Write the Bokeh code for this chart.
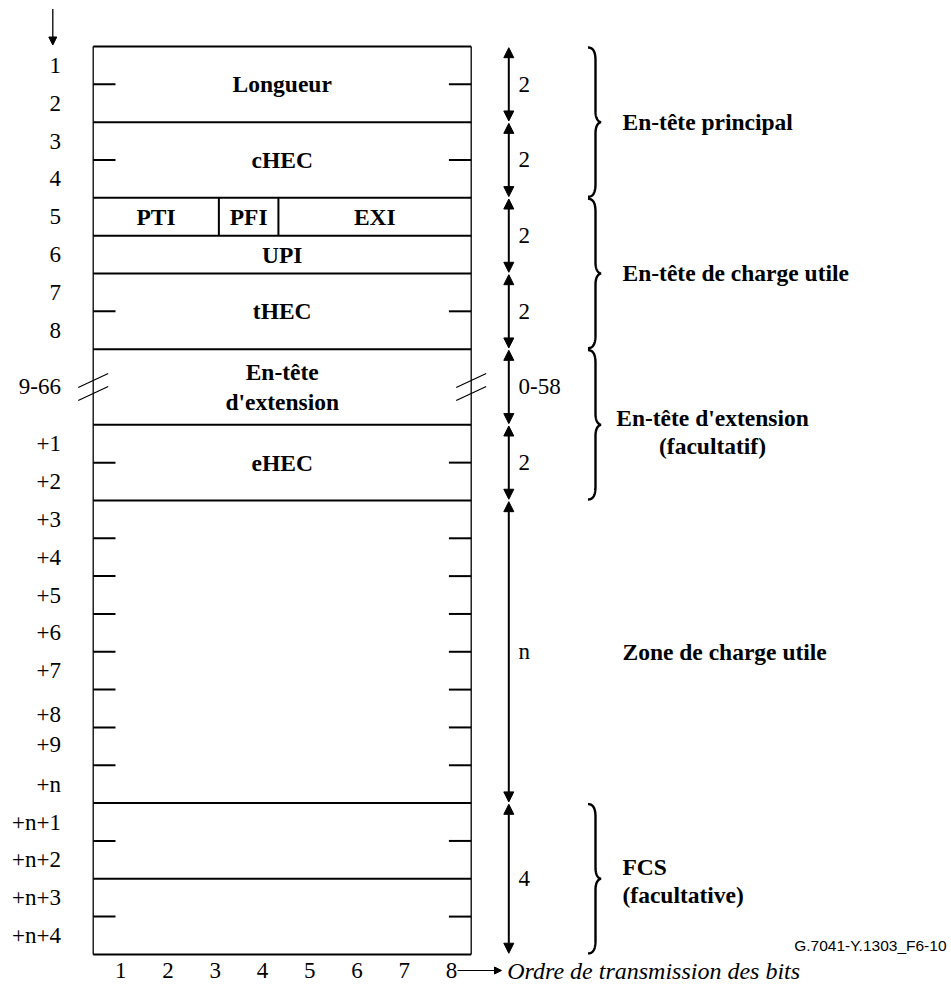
import numpy as np
from bokeh.plotting import figure
from bokeh.models import Range1d, Arrow, NormalHead
from bokeh.core.properties import value
from bokeh.embed import file_html
from bokeh.resources import INLINE

# ---------------- data ----------------
bit_labels = ["1", "2", "3", "4", "5", "6", "7", "8"]

octet_labels = ["1", "2", "3", "4", "5", "6", "7", "8", "9-66", "+1", "+2",
                "+3", "+4", "+5", "+6", "+7", "+8", "+9", "+n",
                "+n+1", "+n+2", "+n+3", "+n+4"]
octet_rows = [0.5, 1.5, 2.5, 3.5, 4.5, 5.5, 6.5, 7.5, 9.0, 10.5, 11.5,
              12.5, 13.5, 14.5, 15.5, 16.5, 17.65, 18.45, 19.5,
              20.5, 21.5, 22.5, 23.5]

field_names = ["Longueur", "cHEC", "PTI", "PFI", "EXI", "UPI", "tHEC",
               "En-tête\nd'extension", "eHEC"]
field_row_start = [0, 2, 4, 4, 4, 5, 6, 8, 10]
field_row_end = [2, 4, 5, 5, 5, 6, 8, 10, 12]
field_bit_start = [0, 0, 0, 2.66, 3.92, 0, 0, 0, 0]
field_bit_end = [8, 8, 2.66, 3.92, 8, 8, 8, 8, 8]

rule_rows = [0, 2, 4, 5, 6, 8, 10, 12, 20, 22, 24]
tick_rows = [1, 3, 7, 11, 13, 14, 15, 16, 17, 18, 19, 21, 23]
break_rows = [9]

span_start = [0, 2, 4, 6, 8, 10, 12, 20]
span_end = [2, 4, 6, 8, 10, 12, 20, 24]
span_count = ["2", "2", "2", "2", "0-58", "2", "n", "4"]

group_names = ["En-tête principal", "En-tête de charge utile",
               "En-tête d'extension\n(facultatif)", "Zone de charge utile",
               "FCS\n(facultative)"]
group_start = [0, 4, 8, 12, 20]
group_end = [4, 8, 12, 20, 24]
group_label_row = [2, 6, 10.2, 16, 22.07]
group_brace = [True, True, True, False, True]
group_align = ["left", "left", "center", "left", "left"]

axis_caption = "Ordre de transmission des bits"
figure_id = "G.7041-Y.1303_F6-10"

# ---------------- layout ----------------
W, H = 950, 984
PAGE = 0
BOX_X = 92.7      # page px of bit 0
BIT_PX = 47.25
TOP_Y = 46.0      # page px of row 0
ROW_PX = 37.83
BOTTOM_TEXT_Y = 970.0


def X(px):
    return (px - BOX_X) / BIT_PX


def Y(py):
    return (py - TOP_Y) / ROW_PX


def dx(n):
    return n / BIT_PX


def dy(n):
    return n / ROW_PX


SERIF = value("Liberation Serif")
SANS = value("Liberation Sans")
BOLD_SIZE = "23.5px"
REG_SIZE = "23px"

p = figure(width=W, height=H, x_range=Range1d(X(PAGE), X(PAGE + W)),
           y_range=Range1d(Y(PAGE + H), Y(PAGE)),
           output_backend="svg", toolbar_location=None,
           x_axis_location=None, y_axis_location=None, min_border=0)
p.grid.visible = False
p.outline_line_color = None
p.background_fill_color = "white"
p.border_fill_color = "white"

# horizontal rules
p.segment(x0=[0] * len(rule_rows), x1=[8] * len(rule_rows), y0=rule_rows, y1=rule_rows,
          line_color="black", line_width=2)
# outer verticals
p.segment(x0=[0, 8], x1=[0, 8], y0=[0, 0], y1=[24, 24], line_color="black", line_width=1.3)
# field dividers
for b0, r0, r1 in zip(field_bit_start, field_row_start, field_row_end):
    if b0 > 0:
        p.segment(x0=[b0], x1=[b0], y0=[r0], y1=[r1], line_color="black", line_width=2)

# field labels
for name, b0, b1, r0, r1 in zip(field_names, field_bit_start, field_bit_end,
                                field_row_start, field_row_end):
    lines = name.split("\n")
    n = len(lines)
    cy = (r0 + r1) / 2
    for i, ln in enumerate(lines):
        yy = cy + (i - (n - 1) / 2) * dy(30)
        p.text(x=[(b0 + b1) / 2], y=[yy], text=[ln], text_font=SERIF,
               text_font_style="bold", text_font_size=BOLD_SIZE,
               text_align="center", text_baseline="middle", text_color="black")

# small ticks
TL = dx(22.3)
p.segment(x0=[0] * len(tick_rows), x1=[TL] * len(tick_rows), y0=tick_rows, y1=tick_rows,
          line_color="black", line_width=2)
p.segment(x0=[8 - TL] * len(tick_rows), x1=[8] * len(tick_rows), y0=tick_rows, y1=tick_rows,
          line_color="black", line_width=2)

# break marks
for r in break_rows:
    for e in [0, 8]:
        for off in [-6.5, 6.5]:
            p.segment(x0=[e - dx(15)], y0=[r + dy(off + 7)],
                      x1=[e + dx(15)], y1=[r + dy(off - 7)],
                      line_color="black", line_width=1.2)

# octet labels
p.text(x=[X(60.5)] * len(octet_labels), y=octet_rows, text=octet_labels,
       text_font=SERIF, text_font_size=REG_SIZE, text_align="right",
       text_baseline="middle", text_color="black")

# span arrows and counts
AX = X(508.3)
for s, e, c in zip(span_start, span_end, span_count):
    p.add_layout(Arrow(start=NormalHead(size=10, fill_color="black", line_color="black", line_width=1),
                       end=NormalHead(size=10, fill_color="black", line_color="black", line_width=1),
                       x_start=AX, y_start=s + dy(1.2), x_end=AX, y_end=e - dy(1.2),
                       line_color="black", line_width=2))
    p.text(x=[X(518)], y=[(s + e) / 2], text=[c], text_font=SERIF, text_font_size=REG_SIZE,
           text_align="left", text_baseline="middle", text_color="black")


# braces
def bez(p0, p1, p2, p3, n=24):
    t = np.linspace(0, 1, n)[:, None]
    pts = ((1 - t) ** 3) * np.array(p0) + 3 * ((1 - t) ** 2) * t * np.array(p1) \
        + 3 * (1 - t) * t ** 2 * np.array(p2) + t ** 3 * np.array(p3)
    return pts


def brace_pts(r0, r1):
    top = TOP_Y + r0 * ROW_PX + 1
    bot = TOP_Y + r1 * ROW_PX - 1
    mid = (top + bot) / 2
    xl, xs, xt = 587.5, 595.0, 600.5
    segs = [
        bez((xl, top), (592.5, top), (xs, top + 4), (xs, top + 13)),
        bez((xs, top + 13), (xs, top + 30), (xs, mid - 30), (xs, mid - 11)),
        bez((xs, mid - 11), (xs, mid - 4), (597.5, mid - 0.5), (xt, mid)),
        bez((xt, mid), (597.5, mid + 0.5), (xs, mid + 4), (xs, mid + 11)),
        bez((xs, mid + 11), (xs, mid + 30), (xs, bot - 30), (xs, bot - 13)),
        bez((xs, bot - 13), (xs, bot - 4), (592.5, bot), (xl, bot)),
    ]
    pts = np.vstack(segs)
    return [X(v) for v in pts[:, 0]], [Y(v) for v in pts[:, 1]]


bx, by = [], []
for s, e, b in zip(group_start, group_end, group_brace):
    if b:
        xs_, ys_ = brace_pts(s, e)
        bx.append(xs_)
        by.append(ys_)
p.multi_line(xs=bx, ys=by, line_color="black", line_width=2.4)

# group labels
for name, row, al in zip(group_names, group_label_row, group_align):
    lines = name.split("\n")
    n = len(lines)
    gx = X(712) if al == "center" else X(622)
    for i, ln in enumerate(lines):
        yy = row + (i - (n - 1) / 2) * dy(28)
        p.text(x=[gx], y=[yy], text=[ln], text_font=SERIF, text_font_style="bold",
               text_font_size=BOLD_SIZE, text_align=al, text_baseline="middle",
               text_color="black")

# top arrow (order of octets)
p.add_layout(Arrow(end=NormalHead(size=8, fill_color="black", line_color="black", line_width=1),
                   x_start=X(52.3), y_start=Y(8.5), x_end=X(52.3), y_end=Y(44.5),
                   line_color="black", line_width=1.3))

# bit numbers
p.text(x=[i + 0.5 + dx(4) for i in range(len(bit_labels))], y=[Y(BOTTOM_TEXT_Y)] * len(bit_labels),
       text=bit_labels, text_font=SERIF, text_font_size=REG_SIZE, text_align="center",
       text_baseline="middle", text_color="black")

# bit-order arrow and caption
p.add_layout(Arrow(end=NormalHead(size=7, fill_color="black", line_color="black", line_width=1),
                   x_start=X(457), y_start=Y(BOTTOM_TEXT_Y), x_end=X(501), y_end=Y(BOTTOM_TEXT_Y),
                   line_color="black", line_width=1.2))
p.text(x=[X(506.7)], y=[Y(BOTTOM_TEXT_Y)], text=[axis_caption], text_font=SERIF,
       text_font_style="italic", text_font_size="24px", text_align="left",
       text_baseline="middle", text_color="black")

# figure id
p.text(x=[X(946)], y=[Y(945)], text=[figure_id], text_font=SANS, text_font_size="15.5px",
       text_align="right", text_baseline="middle", text_color="black")

open("out.html", "w").write(file_html(p, INLINE))
